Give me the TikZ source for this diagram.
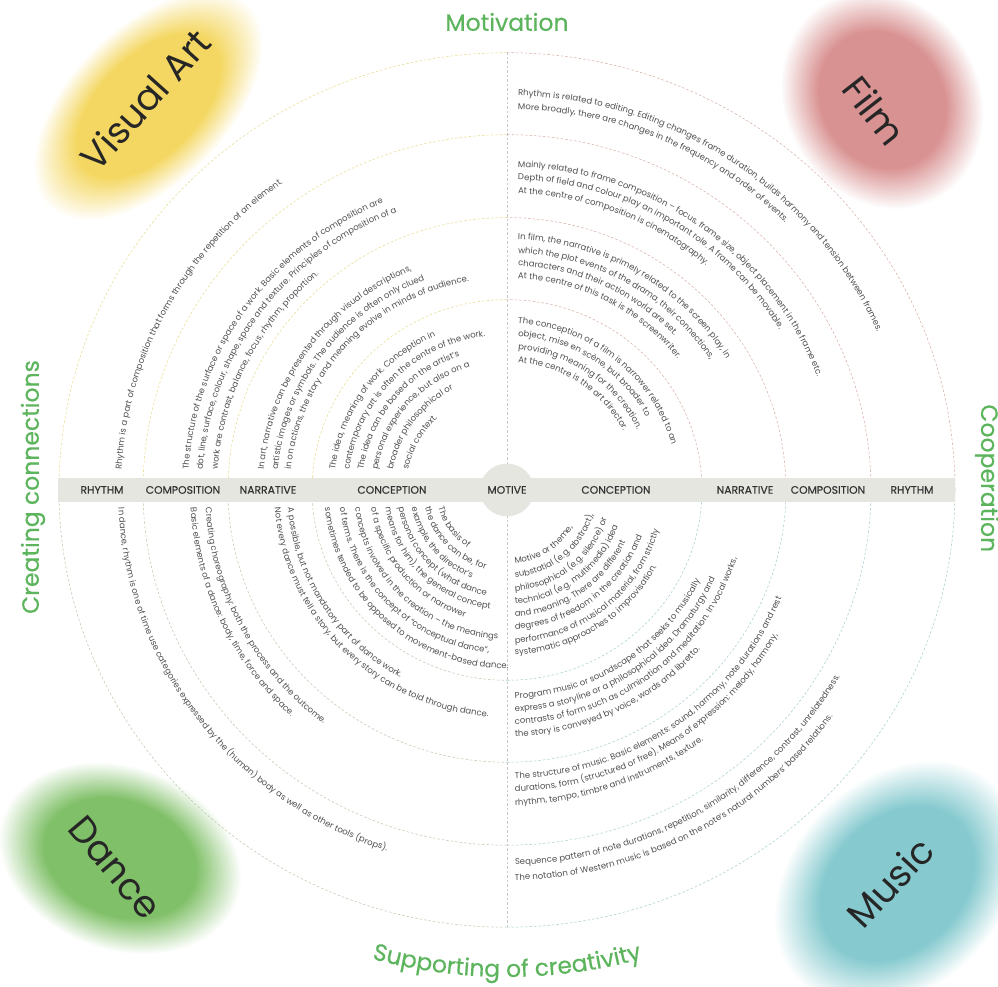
\documentclass[tikz,border=0pt]{standalone}
\usepackage{fontspec}
\setmainfont{Poppins}
\newfontfamily\popmed[FakeBold=0.4]{Poppins}
\usetikzlibrary{decorations.text}

\definecolor{artyellow}{RGB}{244,215,98}
\definecolor{filmred}{RGB}{217,146,146}
\definecolor{dancegreen}{RGB}{128,192,104}
\definecolor{musicteal}{RGB}{134,202,207}
\definecolor{artdashc}{RGB}{232,220,140}
\definecolor{filmdashc}{RGB}{217,176,168}
\definecolor{dancedashc}{RGB}{188,204,174}
\definecolor{musicdashc}{RGB}{168,207,210}
\definecolor{labelgreen}{RGB}{92,180,92}
\definecolor{bandgray}{RGB}{230,230,225}
\definecolor{bandtext}{RGB}{50,50,50}
\definecolor{textgray}{RGB}{80,80,80}

% soft blobs behind the four art names
\pgfdeclareradialshading{artblob}{\pgfpointorigin}{color(0bp)=(artyellow);color(15bp)=(artyellow);color(24bp)=(white);color(50bp)=(white)}
\pgfdeclareradialshading{filmblob}{\pgfpointorigin}{color(0bp)=(filmred);color(15bp)=(filmred);color(24bp)=(white);color(50bp)=(white)}
\pgfdeclareradialshading{danceblob}{\pgfpointorigin}{color(0bp)=(dancegreen);color(15bp)=(dancegreen);color(24bp)=(white);color(50bp)=(white)}
\pgfdeclareradialshading{musicblob}{\pgfpointorigin}{color(0bp)=(musicteal);color(15bp)=(musicteal);color(24bp)=(white);color(50bp)=(white)}

\newcommand\arcfont{\fontsize{8.5}{10}\selectfont\color{textgray}}
\newcommand\sidefont{\popmed\fontsize{23.5}{26}\selectfont\color{labelgreen}}

% one line of curved text per quadrant
\newcommand\artline[2]{\path[arctext={#2}] ({180-asin(20.5/#1)}:#1) arc[start angle={180-asin(20.5/#1)}, end angle=60, radius=#1];}
\newcommand\filmline[2]{\path[arctext={#2}] ({90-asin(11/#1)}:#1) arc[start angle={90-asin(11/#1)}, end angle=-30, radius=#1];}
\newcommand\danceline[2]{\path[arctext={#2}] ({180+asin(18.4/#1)}:#1) arc[start angle={180+asin(18.4/#1)}, end angle=300, radius=#1];}
\newcommand\musicline[2]{\path[arctext={#2}] ({270+asin(8/#1)}:#1) arc[start angle={270+asin(8/#1)}, end angle=400, radius=#1];}

\begin{document}
\begin{tikzpicture}[x=1pt, y=0.976pt,
    bandlabel/.style={font=\popmed\fontsize{10.8}{12}\selectfont, text=bandtext, inner sep=0pt},
    sidelabel/.style={font=\popmed\fontsize{23.5}{26}\selectfont, text=labelgreen, inner sep=0pt},
    artname/.style={font=\fontsize{37}{40}\selectfont, text=black!85, inner sep=0pt},
    ringdash/.style={dash pattern=on 2.5pt off 2pt, line width=0.55pt},
    arctext/.style={decorate, decoration={text along path, text align=left, text={|\arcfont|#1}}}
]
    \useasboundingbox (-507,-509.2) rectangle (491,502);

    % Blobs
    \begin{scope}[transform canvas={shift={(-359,394)}, rotate=45}]
      \shade[shading=artblob] (0,0) ellipse [x radius=148, y radius=84];
    \end{scope}
    \begin{scope}[transform canvas={shift={(375,400)}, rotate=-60}]
      \shade[shading=filmblob] (0,0) ellipse [x radius=118, y radius=104];
    \end{scope}
    \begin{scope}[transform canvas={shift={(-387,-377)}, rotate=-20}]
      \shade[shading=danceblob] (0,0) ellipse [x radius=130, y radius=98];
    \end{scope}
    \begin{scope}[transform canvas={shift={(390,-403)}, rotate=45}]
      \shade[shading=musicblob] (0,0) ellipse [x radius=145, y radius=112];
    \end{scope}

    % Rings
    \foreach \r in {195,279,364,448} {
      \draw[ringdash, artdashc]   (90:\r)  arc[start angle=90,  end angle=180, radius=\r];
      \draw[ringdash, filmdashc]  (0:\r)   arc[start angle=0,   end angle=90,  radius=\r];
      \draw[ringdash, dancedashc] (180:\r) arc[start angle=180, end angle=270, radius=\r];
      \draw[ringdash, musicdashc] (270:\r) arc[start angle=270, end angle=360, radius=\r];
    }
    \draw[ringdash, black!22] (0,12.3) -- (0,448);
    \draw[ringdash, black!22] (0,-12.3) -- (0,-448);

    % Band
    \fill[bandgray] (-449,-12.3) rectangle (448,12.3);
    \fill[bandgray] (0,0) circle (27);
    \node[bandlabel] (motive) at (0,0) {MOTIVE};
    \node[bandlabel] (lconception)  at (-115,0) {CONCEPTION};
    \node[bandlabel] (lnarrative)   at (-239,0) {NARRATIVE};
    \node[bandlabel] (lcomposition) at (-324,0) {COMPOSITION};
    \node[bandlabel] (lrhythm)      at (-405,0) {RHYTHM};
    \node[bandlabel] (rconception)  at (109,0)  {CONCEPTION};
    \node[bandlabel] (rnarrative)   at (238,0)  {NARRATIVE};
    \node[bandlabel] (rcomposition) at (321,0)  {COMPOSITION};
    \node[bandlabel] (rrhythm)      at (405,0)  {RHYTHM};

    % Visual art
    \artline{386}{Rhythm is a part of composition that forms through the repetition of an element.}
    \artline{319}{The structure of the surface or space of a work. Basic elements of composition are}
    \artline{305}{dot, line, surface, colour, shape, space and texture. Principles of composition of a}
    \artline{290}{work are contrast, balance, focus, rhythm, proportion.}
    \artline{244}{In art, narrative can be presented through visual descriptions,}
    \artline{230}{artistic images or symbols. The audience is often only clued}
    \artline{217}{in on actions, the story and meaning evolve in minds of audience.}
    \artline{173}{The idea, meaning of work. Conception in}
    \artline{159}{contemporary art is often the centre of the work.}
    \artline{145}{The idea can be based on the artist’s}
    \artline{131}{personal experience, but also on a}
    \artline{116}{broader philosophical or}
    \artline{101}{social context.}

    % Film
    \filmline{404}{Rhythm is related to editing. Editing changes frame duration, builds harmony and tension between frames.}
    \filmline{390}{More broadly, there are changes in the frequency and order of events.}
    \filmline{331}{Mainly related to frame composition – focus, frame size, object placement in the frame etc.}
    \filmline{318}{Depth of field and colour play an important role. A frame can be movable.}
    \filmline{304}{At the centre of composition is cinematography.}
    \filmline{257}{In film, the narrative is primely related to the screen play, in}
    \filmline{243}{which the plot events of the drama, their connections,}
    \filmline{230}{characters and their action world are set.}
    \filmline{217}{At the centre of this task is the screenwriter.}
    \filmline{171}{The conception of a film is narrower related to an}
    \filmline{158}{object, mise en scène, but broader to}
    \filmline{144}{providing meaning for the creation.}
    \filmline{131}{At the centre is the art director.}

    % Dance
    \danceline{389}{In dance, rhythm is one of time use categories expressed by the (human) body as well as other tools (props).}
    \danceline{302}{Creating choreography: both the process and the outcome.}
    \danceline{317}{Basic elements of a dance: body, time, force and space.}
    \danceline{220}{A possible, but not mandatory part of dance work.}
    \danceline{233}{Not every dance must tell a story, but every story can be told through dance.}
    \danceline{71}{The basis of}
    \danceline{84}{the dance can be, for}
    \danceline{97}{example, the director’s}
    \danceline{110}{personal concept (what dance}
    \danceline{123}{means for him), the general concept}
    \danceline{137}{of a specific production or narrower}
    \danceline{153}{concepts involved in the creation – the meanings}
    \danceline{168}{of terms. There is the concept of “conceptual dance”,}
    \danceline{183}{sometimes tended to be opposed to movement-based dance.}

    % Music
    \musicline{76}{Motive or theme,}
    \musicline{90}{substatial (e.g. abstract),}
    \musicline{104}{philosophical (e.g. silence) or}
    \musicline{117}{technical (e.g. multimedia) idea}
    \musicline{130}{and meaning. There are different}
    \musicline{143}{degrees of freedom in the creation and}
    \musicline{157}{performance of musical material, from strictly}
    \musicline{169}{systematic approaches to improvisation.}
    \musicline{214}{Program music or soundscape that seeks to musically}
    \musicline{227}{express a storyline or a philosophical idea. Dramaturgy and}
    \musicline{240}{contrasts of form such as culmination and meditation. In vocal works,}
    \musicline{253}{the story is conveyed by voice, words and libretto.}
    \musicline{296}{The structure of music. Basic elements: sound, harmony, note durations and rest}
    \musicline{309}{durations, form (structured or free). Means of expression: melody, harmony,}
    \musicline{323}{rhythm, tempo, timbre and instruments, texture.}
    \musicline{384}{Sequence pattern of note durations, repetition, similarity, difference, contrast, unrelatedness.}
    \musicline{400}{The notation of Western music is based on the note’s natural numbers’ based relations.}

    % Art names
    \node[artname, rotate=48]  (visualart) at (-362,400) {Visual Art};
    \node[artname, rotate=-52] (film)      at (368,389)  {Film};
    \node[artname, rotate=-50] (dance)     at (-392,-387) {Dance};
    \node[artname, rotate=47]  (music)     at (383,-402) {Music};

    % Green labels round the wheel
    \node[sidelabel] (motivation) at (0,479.5) {Motivation};
    \node[sidelabel, rotate=90]  (creating)    at (-474,3)  {Creating connections};
    \node[sidelabel, rotate=-90] (cooperation) at (480,12)  {Cooperation};
    \path[decorate, decoration={text along path, text align=center,
          text={|\sidefont|Supporting of creativity}}]
          (250:499) arc[start angle=250, end angle=290, radius=499];

\end{tikzpicture}
\end{document}
